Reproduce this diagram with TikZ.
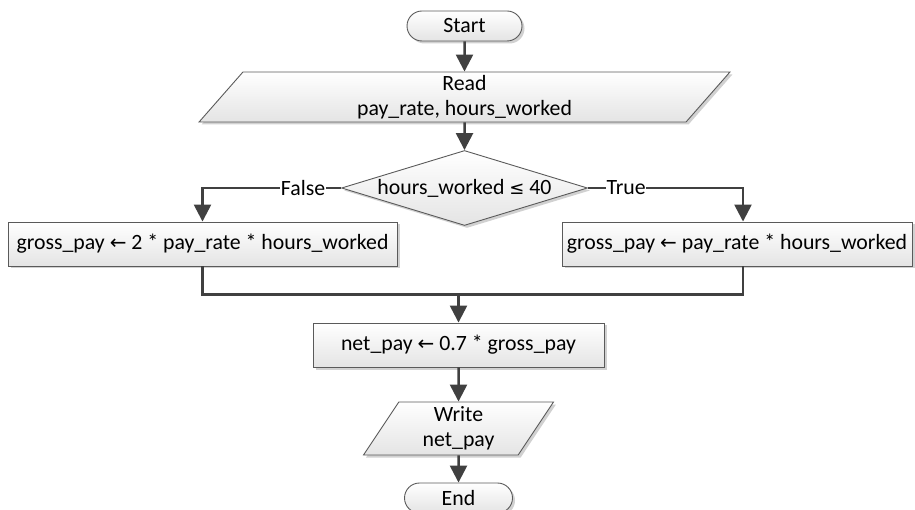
\documentclass[tikz,border=0pt]{standalone}
\usepackage{fontspec}
\setmainfont{Carlito}
\newfontfamily\symfont{DejaVu Sans}
\usetikzlibrary{positioning, shapes.geometric, shapes.misc, arrows.meta, shadows}
\definecolor{boxline}{HTML}{5A5A5A}
\definecolor{boxfill}{HTML}{E4E4E4}
\definecolor{arrowgray}{HTML}{404040}
\newcommand{\getsarrow}{{\symfont\fontsize{20}{22}\selectfont ←}}
\newcommand{\leqsym}{{\symfont\fontsize{18}{20}\selectfont ≤}}
\tikzset{
  chart/.style={
	x=1pt, y=1pt,
	node distance=60pt, % overridden per node below
	font=\fontsize{21.8}{25}\selectfont,
  },
  shapebase/.style={draw=boxline, line width=.9pt, top color=white, bottom color=boxfill,
	drop shadow={shadow xshift=2.5pt, shadow yshift=-2.5pt, fill=black!30, opacity=.6},
	align=center, inner sep=0pt},
  term/.style={shapebase, rounded rectangle, minimum width=115pt, minimum height=30pt},
  io/.style={shapebase, trapezium, trapezium left angle=64, trapezium right angle=116, trapezium stretches=true},
  decide/.style={shapebase, diamond, aspect=3.28, minimum width=246pt, minimum height=75pt},
  proc/.style={shapebase, rectangle, minimum height=44pt},
  flow/.style={line width=2.5pt, draw=arrowgray, -{Triangle[width=17pt,length=17pt]}},
  plainline/.style={line width=2.5pt, draw=arrowgray},
  answer/.style={fill=white, inner sep=0.5pt},
}
\begin{document}
\begin{tikzpicture}[chart]
		\useasboundingbox (0,0) rectangle (915,-510);

		\node[term] (start) at (464.5,-26) {Start};
		\node[io, below of=start, node distance=71pt, minimum width=532pt, minimum height=50pt] (read) {Read\\pay\_rate, hours\_worked};
		\node[decide, below of=read, node distance=91pt] (dec) {hours\_worked \leqsym{} 40};

		\node[proc, below of=dec, node distance=56pt, xshift=-262pt, minimum width=389pt] (lbox) {gross\_pay \getsarrow{} 2 * pay\_rate * hours\_worked};
		\node[proc, below of=dec, node distance=56pt, xshift=272.5pt, minimum width=350pt] (rbox) {gross\_pay \getsarrow{} pay\_rate * hours\_worked};

		\node[proc, below of=dec, node distance=157pt, xshift=-6pt, minimum width=291pt] (net) {net\_pay \getsarrow{} 0.7 * gross\_pay};
		\node[io, below of=net, node distance=83.5pt, minimum width=190pt, minimum height=53pt] (write) {Write\\net\_pay};
		\node[term, below of=write, node distance=69.5pt, minimum width=108pt] (end) {End};

		% Flechas principales
		\draw[flow] (start) -- (read);
		\draw[flow] (read) -- (dec);
		\draw[flow] (dec.west) -| node[answer, pos=.137]{False} (lbox.north);
		\draw[flow] (dec.east) -| node[answer, pos=.123]{True} ([xshift=6pt]rbox.north);

		% Union de ramas
		\coordinate (merge) at ([yshift=28pt]net.north);
		\draw[plainline] (lbox.south) |- (merge) -| ([xshift=6pt]rbox.south);
		\draw[flow] (merge) -- (net);
		\draw[flow] (net) -- (write);
		\draw[flow] (write) -- (end);
	\end{tikzpicture}
\end{document}
